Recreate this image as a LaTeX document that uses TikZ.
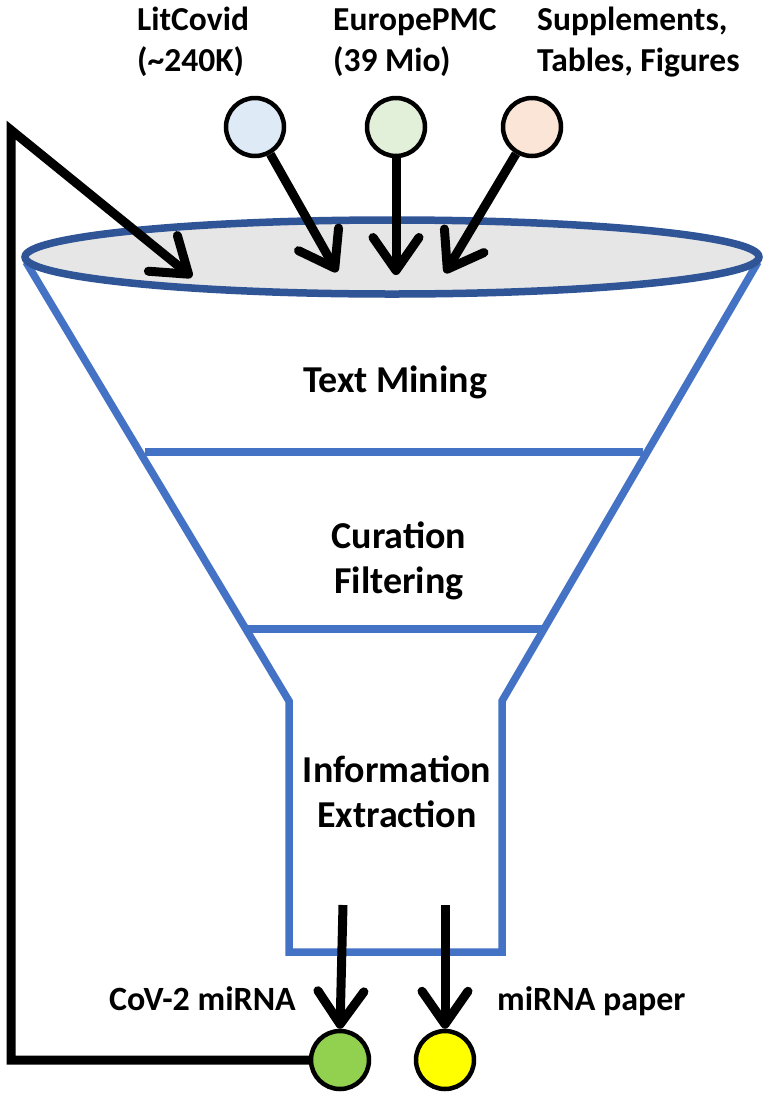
\documentclass[tikz,border=0pt]{standalone}
\usepackage{fontspec}
\setmainfont{Carlito}
\usetikzlibrary{arrows.meta,shapes.geometric}
\definecolor{funnelblue}{HTML}{4472C4}
\definecolor{rimblue}{HTML}{2F5597}
\definecolor{rimfill}{HTML}{E6E6E6}
\definecolor{srcblue}{HTML}{DEEBF7}
\definecolor{srcgreen}{HTML}{E2F0D9}
\definecolor{srcpeach}{HTML}{FBE5D6}
\definecolor{outgreen}{HTML}{92D050}
\definecolor{outyellow}{HTML}{FFFF00}
\begin{document}
\begin{tikzpicture}[x=1pt,y=-1pt,
  funnelline/.style={draw=funnelblue, line width=7.5pt},
  flow/.style={draw=black, line width=9pt, -{Straight Barb[length=33pt,width=46pt,round]}},
  srcnode/.style={circle, draw=black, line width=4.5pt, minimum size=58pt, inner sep=0pt},
  toplabel/.style={font=\bfseries\fontsize{33.5}{41}\selectfont, align=left, inner sep=0pt, anchor=base west},
  stagelabel/.style={font=\bfseries\fontsize{38}{45}\selectfont, align=center, inner sep=0pt, anchor=base},
  outlabel/.style={font=\bfseries\fontsize{34}{40}\selectfont, inner sep=0pt}
]
\useasboundingbox (0,0) rectangle (768,1096);

% funnel body
\draw[funnelline] (26,262) -- (289,701) -- (289,952) -- (502,952) -- (502,701) -- (758,262);
\draw[funnelline] (145,452) -- (643,452);
\draw[funnelline] (246,629) -- (545,629);

% rim
\node[ellipse, draw=rimblue, fill=rimfill, line width=7.5pt, minimum width=734pt, minimum height=74pt, inner sep=0pt] (rim) at (392,257) {};

% stage texts
\node[stagelabel] (tm) at (395,392) {Text Mining};
\node[stagelabel] (cf) at (399,593) {Curation\\Filtering};
\node[stagelabel] (ie) at (397,827) {Information\\Extraction};

% sources
\node[srcnode, fill=srcblue] (s1) at (255,127) {};
\node[srcnode, fill=srcgreen] (s2) at (396,127) {};
\node[srcnode, fill=srcpeach] (s3) at (532,127) {};

\node[toplabel] (l1) at (137,71) {LitCovid\\(\textasciitilde 240K)};
\node[toplabel] (l2) at (333,71) {EuropePMC\\(39 Mio)};
\node[toplabel] (l3) at (537,71) {Supplements,\\Tables, Figures};

\coordinate (t1) at (337,272);
\coordinate (t2) at (396,275);
\coordinate (t3) at (445,273);
\coordinate (tf) at (192,277);

\draw[flow] (s1) -- (t1);
\draw[flow] (s2) -- (t2);
\draw[flow] (s3) -- (t3);

% outputs
\node[srcnode, fill=outgreen] (o1) at (340,1060) {};
\node[srcnode, fill=outyellow] (o2) at (445,1060) {};

\coordinate (b1) at (343,905);
\coordinate (b2) at (445,905);
\draw[flow] (b1) -- (o1.north);
\draw[flow] (b2) -- (o2.north);

\node[outlabel, anchor=base east] (ol1) at (296,1010) {CoV-2 miRNA};
\node[outlabel, anchor=base west] (ol2) at (497,1010) {miRNA paper};

% feedback loop
\draw[flow] (o1.west) -- (11,1060) -- (11,130) -- (tf);
\end{tikzpicture}
\end{document}
